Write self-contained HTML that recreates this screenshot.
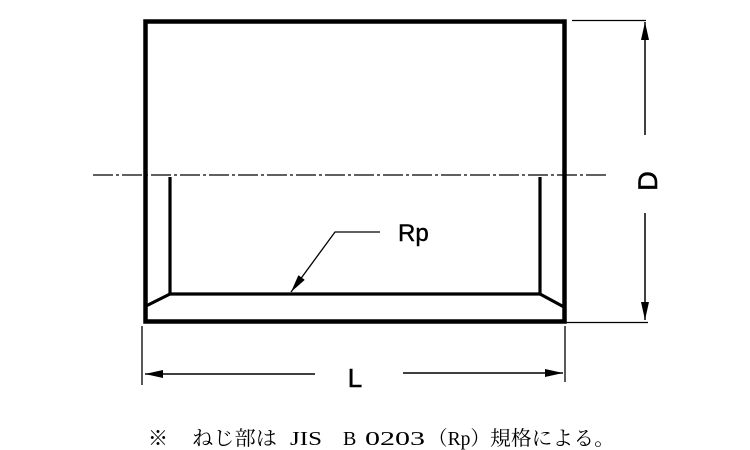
<!DOCTYPE html>
<html><head><meta charset="utf-8"><style>html,body{margin:0;padding:0;background:#fff}svg{display:block}</style></head>
<body>
<svg width="750" height="450" viewBox="0 0 750 450" xmlns="http://www.w3.org/2000/svg">
<defs>
<marker id="ar" markerWidth="18" markerHeight="8" refX="18" refY="4" orient="auto" markerUnits="userSpaceOnUse"><path d="M0,0 L18,4 L0,8 Z" fill="#000"/></marker>
</defs>
<rect x="145.5" y="21.5" width="419" height="300" fill="none" stroke="#000" stroke-width="4.5"/>
<line x1="93" y1="175" x2="608" y2="175" stroke="#000" stroke-width="1.3" stroke-dasharray="20,3,3,3"/>
<polyline points="170,177 170,294 540,294 540,177" fill="none" stroke="#000" stroke-width="3.2"/>
<line x1="170" y1="294" x2="146" y2="306" stroke="#000" stroke-width="3.2"/>
<line x1="540" y1="294" x2="564" y2="307" stroke="#000" stroke-width="3.2"/>
<!-- D dimension -->
<line x1="572" y1="20.5" x2="646" y2="20.5" stroke="#000" stroke-width="1.3"/>
<line x1="566" y1="322.5" x2="648" y2="322.5" stroke="#000" stroke-width="1.3"/>
<line x1="645" y1="135" x2="645" y2="22" stroke="#000" stroke-width="1.5" marker-end="url(#ar)"/>
<line x1="645" y1="213" x2="645" y2="320" stroke="#000" stroke-width="1.5" marker-end="url(#ar)"/>
<text x="657" y="181" font-family="Liberation Sans, sans-serif" font-size="27" text-anchor="middle" stroke="#000" stroke-width="0.6" transform="rotate(-90 657 181)">D</text>
<!-- L dimension -->
<line x1="142" y1="326" x2="142" y2="385" stroke="#000" stroke-width="1.3"/>
<line x1="565" y1="326" x2="565" y2="382" stroke="#000" stroke-width="1.3"/>
<line x1="315" y1="374" x2="145" y2="374" stroke="#000" stroke-width="1.5" marker-end="url(#ar)"/>
<line x1="403" y1="373" x2="563" y2="373" stroke="#000" stroke-width="1.5" marker-end="url(#ar)"/>
<text x="355" y="387" font-family="Liberation Sans, sans-serif" font-size="26" text-anchor="middle" stroke="#000" stroke-width="0.5">L</text>
<!-- Rp leader -->
<polyline points="380,232 335,232 291,292" fill="none" stroke="#000" stroke-width="1.3" marker-end="url(#ar)"/>
<text x="398" y="241" font-family="Liberation Sans, sans-serif" font-size="24" stroke="#000" stroke-width="0.4">Rp</text>
<!-- note -->
<g font-family="Liberation Serif, 'Noto Serif CJK JP', 'Noto Sans CJK JP', serif" font-size="20">
<text x="148" y="445">※</text>
<text x="192" y="445" textLength="85" lengthAdjust="spacingAndGlyphs">ねじ部は</text>
<text x="290" y="445" textLength="32" lengthAdjust="spacingAndGlyphs">JIS</text>
<text x="343" y="445">B</text>
<text x="365" y="445" textLength="60" lengthAdjust="spacingAndGlyphs">0203</text>
<text x="428" y="445" textLength="62" lengthAdjust="spacingAndGlyphs">（Rp）</text>
<text x="490" y="445" textLength="125" lengthAdjust="spacingAndGlyphs">規格による。</text>
</g>
</svg>
</body></html>
